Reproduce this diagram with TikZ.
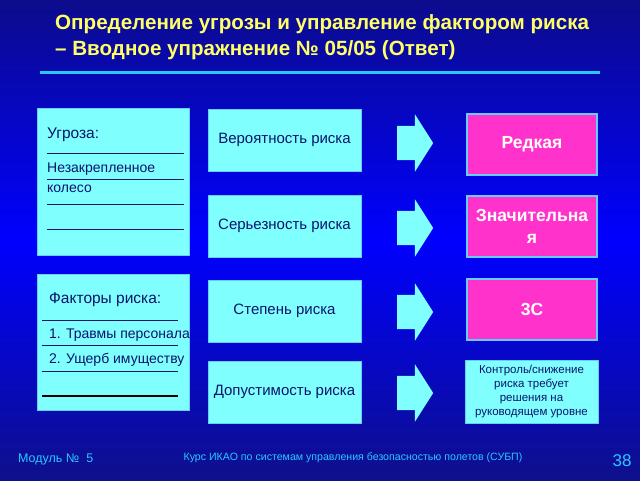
\documentclass[tikz,border=0pt]{standalone}
\usepackage{fontspec}
\setmainfont{Liberation Sans}
\usetikzlibrary{shapes.arrows}
\definecolor{bgtop}{RGB}{12, 12, 140}
\definecolor{bgmid}{RGB}{0, 0, 255}
\definecolor{bgbot}{RGB}{14, 16, 140}
\definecolor{cyanbox}{RGB}{128, 255, 255}
\definecolor{pinkbox}{RGB}{255, 51, 204}
\definecolor{edgeblue}{RGB}{102, 204, 255}
\definecolor{ink}{RGB}{10, 20, 110}
\definecolor{titleyellow}{RGB}{255, 255, 102}
\definecolor{rulecyan}{RGB}{40, 200, 255}
\newcommand{\midbox}[3]{
  \node[midstyle] (#1) at (284.5, #2) {#3};
}
\newcommand{\fatarrow}[2]{
  \node[fatarrowstyle] (#1) at (397, #2) {};
}
\begin{document}
\begin{tikzpicture}[x=1pt, y=-1pt,
    midstyle/.style={draw=edgeblue, fill=cyanbox, text=ink, minimum width=153, minimum height=62, font=\fontsize{15}{17}\selectfont},
    gradebox/.style={draw=edgeblue, line width=1.2, fill=pinkbox, text=white, minimum width=130, minimum height=61, align=center, font=\fontsize{17.5}{22}\selectfont\bfseries},
    listbox/.style={draw=edgeblue, fill=cyanbox, minimum width=152},
    listtext/.style={anchor=base west, text=ink, inner sep=0, font=\fontsize{14}{16}\selectfont},
    fatarrowstyle/.style={single arrow, fill=cyanbox, inner xsep=0, inner ysep=17, minimum height=36, single arrow head extend=11.5, single arrow tip angle=115, anchor=tail}]
      \useasboundingbox (0,0) rectangle (640,480);
      \shade[top color=bgtop, bottom color=bgbot, middle color=bgmid] (0,0) rectangle (640,480);

      % title
      \node[anchor=base west, text=titleyellow, inner sep=0, font=\fontsize{20.6}{26}\selectfont\bfseries] (title1) at (55,29) {Определение угрозы и управление фактором риска};
      \node[anchor=base west, text=titleyellow, inner sep=0, font=\fontsize{20.6}{26}\selectfont\bfseries] (title2) at (55,55) {– Вводное упражнение № 05/05 (Ответ)};
      \draw[rulecyan, line width=3] (40,72) -- (600,72);

      % threat
      \node[listbox, minimum height=147] (threat) at (113,181.5) {};
      \node[listtext, font=\fontsize{15.5}{17}\selectfont] (threatlabel) at (47,138) {Угроза:};
      \foreach \y in {153,179,204,229} \draw[ink] (47,\y) -- (184,\y);
      \node[listtext] (threattext1) at (47,172) {Незакрепленное};
      \node[listtext] (threattext2) at (47,192) {колесо};

      % factors
      \node[listbox, minimum height=136] (factors) at (113,342) {};
      \node[listtext, font=\fontsize{15.5}{17}\selectfont] (factorslabel) at (49,303) {Факторы риска:};
      \foreach \y in {320,345,371} \draw[ink] (42,\y) -- (178,\y);
      \draw[black, line width=1.2] (42,396) -- (178,396);
      \node[listtext] (factor1) at (49,338) {1. Травмы персонала};
      \node[listtext] (factor2) at (49,363) {2. Ущерб имуществу};

      \midbox{prob}{140}{Вероятность риска}
      \midbox{sev}{226}{Серьезность риска}
      \midbox{level}{311}{Степень риска}
      \midbox{toler}{392}{Допустимость риска}

      \fatarrow{a1}{143}
      \fatarrow{a2}{228}
      \fatarrow{a3}{312}
      \fatarrow{a4}{393}

      \node[gradebox] (rare) at (532,144.5) {Редкая};
      \node[gradebox] (major) at (532,226.5) {Значительна\\я};
      \node[gradebox] (index) at (532,309.5) {3С};
      \node[draw=edgeblue, fill=cyanbox, text=ink, minimum width=133, minimum height=63, align=center, inner sep=1, font=\fontsize{11.5}{14.2}\selectfont] (action) at (531.5,391.5) {Контроль/снижение\\риска требует\\решения на\\руководящем уровне};

      % footer
      \node[anchor=base west, text=rulecyan, inner sep=0, font=\fontsize{12.5}{14}\selectfont] (module) at (18,462) {Модуль №\ \ 5};
      \node[anchor=base, text=rulecyan, inner sep=0, font=\fontsize{10.6}{12}\selectfont] (course) at (353,460) {Курс ИКАО по системам управления безопасностью полетов (СУБП)};
      \node[anchor=base, text=rulecyan, inner sep=0, font=\fontsize{17}{19}\selectfont] (page) at (622,466) {38};
\end{tikzpicture}
\end{document}
